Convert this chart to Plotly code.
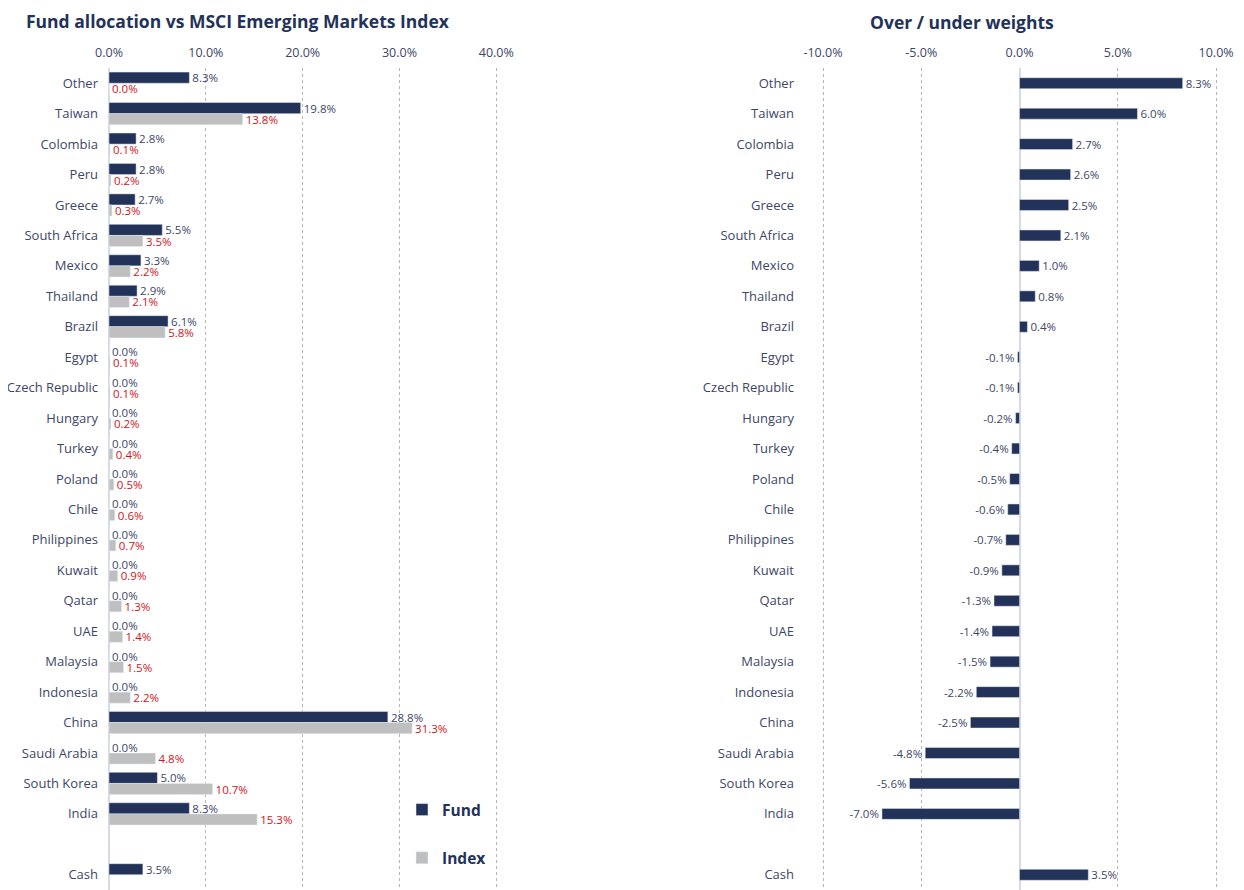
import plotly.graph_objects as go

categories = ["Other", "Taiwan", "Colombia", "Peru", "Greece", "South Africa", "Mexico",
              "Thailand", "Brazil", "Egypt", "Czech Republic", "Hungary", "Turkey", "Poland",
              "Chile", "Philippines", "Kuwait", "Qatar", "UAE", "Malaysia", "Indonesia",
              "China", "Saudi Arabia", "South Korea", "India", "Cash"]
fund = [8.3, 19.8, 2.8, 2.8, 2.7, 5.5, 3.3, 2.9, 6.1, 0.0, 0.0, 0.0, 0.0, 0.0, 0.0, 0.0,
        0.0, 0.0, 0.0, 0.0, 0.0, 28.8, 0.0, 5.0, 8.3, 3.5]
index = [0.0, 13.8, 0.1, 0.2, 0.3, 3.5, 2.2, 2.1, 5.8, 0.1, 0.1, 0.2, 0.4, 0.5, 0.6, 0.7,
         0.9, 1.3, 1.4, 1.5, 2.2, 31.3, 4.8, 10.7, 15.3, None]
diff = [8.3, 6.0, 2.7, 2.6, 2.5, 2.1, 1.0, 0.8, 0.4, -0.1, -0.1, -0.2, -0.4, -0.5, -0.6,
        -0.7, -0.9, -1.3, -1.4, -1.5, -2.2, -2.5, -4.8, -5.6, -7.0, 3.5]
left_ticks = [0, 10, 20, 30, 40]
right_ticks = [-10, -5, 0, 5, 10]

# a blank slot between India and Cash
pos = list(range(len(categories) - 1)) + [len(categories)]

NAVY = "#233259"
GREY = "#bfbfbf"
RED = "#d0141c"
TXT = "#3d4669"
FONT = "Open Sans"

fig = go.Figure()
fig.add_trace(go.Bar(
    x=fund, y=pos, orientation="h", name="Fund", marker_color=NAVY,
    text=[f"{v:.1f}%" for v in fund], textposition="outside", cliponaxis=False,
    constraintext="none",
    textfont=dict(color=TXT, size=11.5, family=FONT), legendgroup="a",
    xaxis="x", yaxis="y"))
idx_pos = [p for p, v in zip(pos, index) if v is not None]
idx_val = [v for v in index if v is not None]
fig.add_trace(go.Bar(
    x=idx_val, y=idx_pos, orientation="h", name="Index", marker_color=GREY,
    text=[f"{v:.1f}%" for v in idx_val], textposition="outside", cliponaxis=False,
    constraintext="none",
    textfont=dict(color=RED, size=11.5, family=FONT), legendgroup="b",
    xaxis="x", yaxis="y"))
fig.add_trace(go.Bar(
    x=diff, y=pos, orientation="h", name="Diff", marker_color=NAVY, width=0.36,
    text=[f"{v:.1f}%" for v in diff], textposition="outside", cliponaxis=False,
    constraintext="none",
    textfont=dict(color=TXT, size=11.5, family=FONT), showlegend=False,
    xaxis="x2", yaxis="y2"))

# page body has an 8px margin; figure coordinates below are page pixels minus 8
W, H = 1236, 882
TOP = 60
PH = H - TOP
ycommon = dict(
    tickmode="array", tickvals=pos, ticktext=categories, range=[26.5, -0.5],
    showgrid=False, zeroline=False, ticks="", automargin=False, ticklabelstandoff=10,
    tickfont=dict(color=TXT, size=13, family=FONT),
)
xcommon = dict(
    side="top", showgrid=True, gridcolor="#b5b5b5", griddash="dot", gridwidth=1,
    zeroline=True, zerolinecolor="#d3dae8", zerolinewidth=1.5, automargin=False,
    tickfont=dict(color=TXT, size=12.5, family=FONT), ticks="", ticklabelstandoff=8,
)
fig.update_layout(
    width=W, height=H, margin=dict(l=0, r=0, t=TOP, b=0),
    paper_bgcolor="white", plot_bgcolor="white",
    barmode="group", bargap=0.27, bargroupgap=0,
    font=dict(family=FONT, color=TXT),
    xaxis=dict(domain=[101 / W, 498 / W], range=[0, 41],
               tickvals=left_ticks, ticktext=[f"{t:.1f}%" for t in left_ticks], **xcommon),
    yaxis=dict(anchor="x", **ycommon),
    xaxis2=dict(domain=[797 / W, 1224 / W], range=[-10.916, 10.81],
                tickvals=right_ticks, ticktext=[f"{t:.1f}%" for t in right_ticks],
                anchor="y2", **xcommon),
    yaxis2=dict(anchor="x2", **ycommon),
    legend=dict(x=394 / W, y=0.118, xanchor="left", yanchor="top",
                font=dict(size=15.5, color=NAVY, family=FONT, weight="bold"),
                tracegroupgap=25, bgcolor="rgba(0,0,0,0)", itemwidth=30),
    showlegend=True,
    annotations=[
        dict(text="<b>Fund allocation vs MSCI Emerging Markets Index</b>", xref="paper",
             yref="paper", x=17 / W, y=1 + (TOP - 0.5) / PH, xanchor="left", yanchor="top",
             borderpad=0, showarrow=False, font=dict(size=17.5, color=NAVY, family=FONT)),
        dict(text="<b>Over / under weights</b>", xref="paper", yref="paper",
             x=954 / W, y=1 + (TOP - 1) / PH, xanchor="center", yanchor="top",
             borderpad=0, showarrow=False, font=dict(size=17.5, color=NAVY, family=FONT)),
    ],
)
fig.write_html("out.html")
